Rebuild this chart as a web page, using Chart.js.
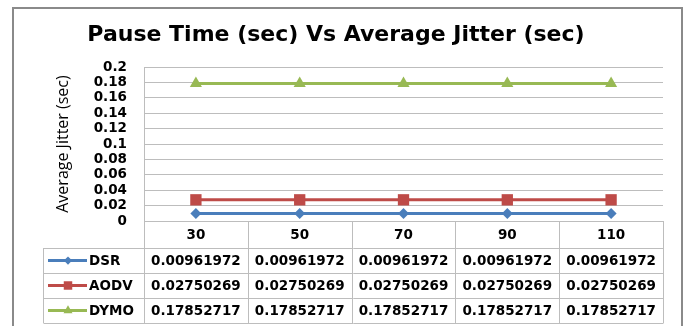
<!DOCTYPE html>
<html>
<head>
<meta charset="utf-8">
<script src="https://cdn.jsdelivr.net/npm/chart.js@4.4.1/dist/chart.umd.min.js"></script>
<style>
html,body{margin:0;padding:0;background:#fff;}
canvas{display:block;}
</style>
</head>
<body>
<canvas id="c" width="688" height="326"></canvas>
<script>
// ---- data ----
const categories = ['30', '50', '70', '90', '110'];
const seriesNames = ['DSR', 'AODV', 'DYMO'];
const dsrValues  = [0.00961972, 0.00961972, 0.00961972, 0.00961972, 0.00961972];
const aodvValues = [0.02750269, 0.02750269, 0.02750269, 0.02750269, 0.02750269];
const dymoValues = [0.17852717, 0.17852717, 0.17852717, 0.17852717, 0.17852717];
const tableTexts = [
  ['0.00961972', '0.00961972', '0.00961972', '0.00961972', '0.00961972'],
  ['0.02750269', '0.02750269', '0.02750269', '0.02750269', '0.02750269'],
  ['0.17852717', '0.17852717', '0.17852717', '0.17852717', '0.17852717']
];
const yMin = 0, yMax = 0.2, yStep = 0.02;
const titleText = 'Pause Time (sec) Vs Average Jitter (sec)';
const yTitleText = 'Average Jitter (sec)';

// ---- styles ----
const colors = ['#4a7ebb', '#be4b48', '#98b954'];
const styles = ['rectRot', 'rect', 'triangle'];
const radii = [5.5, 8, 7];
const gridColor = '#bdbdbd';
const boldFont = 'bold 13.5px "DejaVu Sans"';

function drawMarker(ctx, style, x, y, r, color) {
  ctx.save();
  ctx.fillStyle = color;
  ctx.beginPath();
  if (style === 'rectRot') {
    ctx.moveTo(x - r, y); ctx.lineTo(x, y - r); ctx.lineTo(x + r, y); ctx.lineTo(x, y + r);
  } else if (style === 'rect') {
    const s = Math.SQRT1_2 * r;
    ctx.rect(x - s, y - s, 2 * s, 2 * s);
  } else {
    const w = r * Math.sqrt(3) / 2;
    ctx.moveTo(x - w, y + r / 2); ctx.lineTo(x + w, y + r / 2); ctx.lineTo(x, y - r);
  }
  ctx.closePath();
  ctx.fill();
  ctx.restore();
}

const framePlugin = {
  id: 'frameAndTable',
  beforeDraw(chart) {
    const ctx = chart.ctx;
    ctx.save();
    ctx.fillStyle = '#fff';
    ctx.fillRect(0, 0, chart.width, chart.height);
    ctx.strokeStyle = '#8a8a8a';
    ctx.lineWidth = 2;
    ctx.strokeRect(13, 8, 669, 340);
    ctx.restore();
  },
  afterDraw(chart) {
    const ctx = chart.ctx;
    const a = chart.chartArea;
    const x = chart.scales.x;
    const colW = x.getPixelForValue(1) - x.getPixelForValue(0);
    const edges = categories.map((c, i) => x.getPixelForValue(i) - colW / 2);
    edges.push(x.getPixelForValue(categories.length - 1) + colW / 2);
    const top = a.bottom;
    const headH = 27, rowH = 25;
    const legendLeft = 43.5;
    const bottom = top + headH + rowH * seriesNames.length;

    ctx.save();
    ctx.strokeStyle = gridColor;
    ctx.lineWidth = 1;
    ctx.beginPath();
    edges.forEach(e => {
      const xx = Math.round(e) + 0.5;
      ctx.moveTo(xx, top); ctx.lineTo(xx, bottom);
    });
    ctx.moveTo(legendLeft, top + headH); ctx.lineTo(legendLeft, bottom);
    for (let r = 0; r <= seriesNames.length; r++) {
      const yy = Math.round(top + headH + r * rowH) + 0.5;
      ctx.moveTo(legendLeft, yy); ctx.lineTo(Math.round(edges[edges.length - 1]) + 0.5, yy);
    }
    ctx.stroke();

    ctx.fillStyle = '#000';
    ctx.font = boldFont;
    ctx.textAlign = 'center';
    ctx.textBaseline = 'middle';
    categories.forEach((c, i) => {
      ctx.fillText(c, x.getPixelForValue(i), top + headH / 2 + 1);
    });
    tableTexts.forEach((row, r) => {
      const cy = top + headH + r * rowH + rowH / 2 + 1;
      row.forEach((t, i) => ctx.fillText(t, x.getPixelForValue(i), cy));
    });
    ctx.textAlign = 'left';
    seriesNames.forEach((n, r) => {
      const cy = top + headH + r * rowH + rowH / 2;
      ctx.strokeStyle = colors[r];
      ctx.lineWidth = 3;
      ctx.beginPath();
      ctx.moveTo(48, cy); ctx.lineTo(87, cy);
      ctx.stroke();
      drawMarker(ctx, styles[r], 68, cy, radii[r] * 0.75, colors[r]);
      ctx.fillStyle = '#000';
      ctx.fillText(n, 89, cy + 1);
    });
    ctx.restore();
  }
};

const valueSets = [dsrValues, aodvValues, dymoValues];
new Chart(document.getElementById('c'), {
  type: 'line',
  data: {
    labels: categories,
    datasets: seriesNames.map((n, i) => ({
      label: n,
      data: valueSets[i],
      borderColor: colors[i],
      backgroundColor: colors[i],
      borderWidth: 3,
      pointStyle: styles[i],
      pointRadius: radii[i],
      pointBorderWidth: 0,
      pointBackgroundColor: colors[i],
      tension: 0
    }))
  },
  options: {
    responsive: false,
    animation: false,
    devicePixelRatio: 1,
    layout: { padding: { top: 0, left: 9, right: 25, bottom: 105 } },
    plugins: {
      legend: { display: false },
      tooltip: { enabled: false },
      title: {
        display: true,
        text: titleText,
        color: '#000',
        font: { family: '"DejaVu Sans"', size: 22, weight: 'bold', lineHeight: 1.2 },
        padding: { top: 22, bottom: 18.6 }
      }
    },
    scales: {
      x: {
        type: 'category',
        display: false,
        offset: true
      },
      y: {
        min: yMin,
        max: yMax,
        afterFit(scale) { scale.width = 135; },
        border: { display: true, color: gridColor, width: 1 },
        grid: { color: gridColor, drawTicks: false, lineWidth: 1 },
        ticks: {
          stepSize: yStep,
          autoSkip: false,
          padding: 17,
          color: '#000',
          font: { family: '"DejaVu Sans"', size: 13.5, weight: 'bold' },
          callback: v => String(+Number(v).toFixed(2))
        },
        title: {
          display: true,
          text: yTitleText,
          color: '#000',
          font: { family: '"Open Sans"', size: 16, weight: 'normal' },
          padding: { top: 44.4, bottom: 0 }
        }
      }
    }
  },
  plugins: [framePlugin]
});
</script>
</body>
</html>
